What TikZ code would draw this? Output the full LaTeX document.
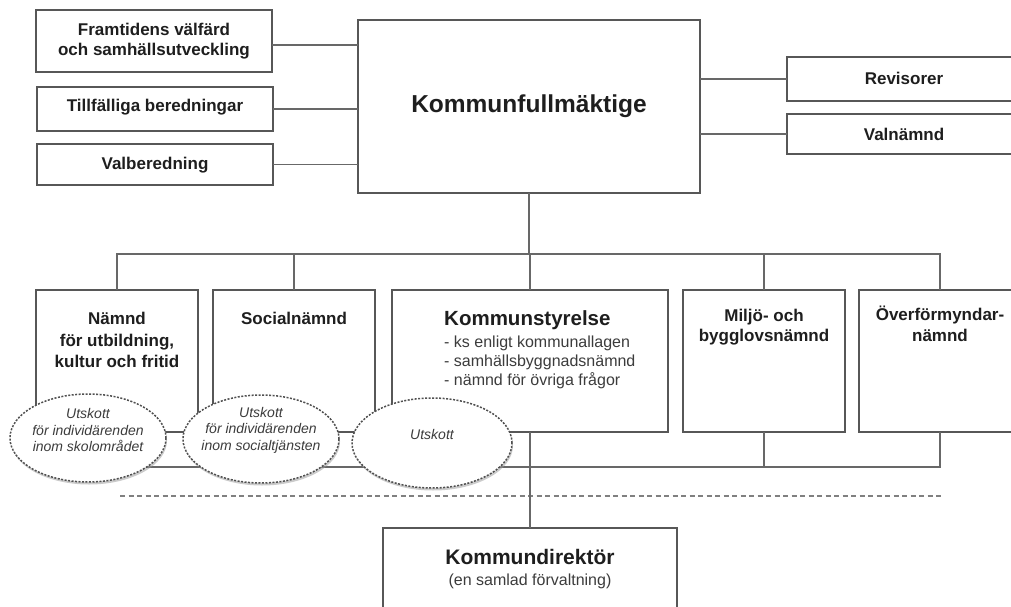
\documentclass[tikz,border=0pt]{standalone}
\usepackage{fontspec}
\setmainfont{Liberation Sans}
\usetikzlibrary{shapes.geometric,shadows}
\definecolor{linec}{HTML}{686868}
\definecolor{boxc}{HTML}{575757}
\definecolor{txtc}{HTML}{1E1E1E}
\definecolor{subc}{HTML}{3C3C3C}
\definecolor{ellc}{HTML}{505050}
\begin{document}
\begin{tikzpicture}[x=1pt,y=-1pt,
  box/.style={draw=boxc,line width=1.4pt,fill=white,inner sep=0pt,outer sep=0pt},
  conn/.style={draw=linec,line width=1.2pt},
  sepline/.style={draw=black!50,line width=1.1pt,dash pattern=on 5pt off 3.5pt},
  lbl/.style={text=txtc,font=\bfseries\fontsize{17}{20}\selectfont,align=center,inner sep=0pt},
  subtxt/.style={text=subc,font=\fontsize{16}{19}\selectfont,align=left,inner sep=0pt},
  ell/.style={ellipse,draw=ellc,line width=1.5pt,dash pattern=on 2pt off 1.5pt,fill=white,inner sep=0pt,
    drop shadow={shadow xshift=1pt,shadow yshift=-2.5pt,fill=black!40,opacity=0.5}},
  elltext/.style={text=subc,font=\itshape\fontsize{14}{16.5}\selectfont,align=center,inner sep=0pt}]
\path[use as bounding box] (0,0) rectangle (1011,607);
\clip (0,0) rectangle (1011,607);
\fill[white] (0,0) rectangle (1011,607);

% top level
\node[box,minimum width=342pt,minimum height=173pt] (kf) at (529,106.5) {};
\node[lbl,font=\bfseries\fontsize{24.5}{28}\selectfont,anchor=base] (kft) at (529,113) {Kommunfullmäktige};

\node[box,minimum width=236pt,minimum height=62pt] (fv) at (154,41) {};
\node[lbl,anchor=north] (fvt) at (154,23) {Framtidens välfärd\\och samhällsutveckling};
\node[box,minimum width=236pt,minimum height=44pt] (tb) at (155,109) {};
\node[lbl,anchor=base] (tbt) at (155,112) {Tillfälliga beredningar};
\node[box,minimum width=236pt,minimum height=41pt] (vb) at (155,164.5) {};
\node[lbl,anchor=base] (vbt) at (155,169) {Valberedning};

\node[box,minimum width=234pt,minimum height=44pt] (rev) at (904,79) {};
\node[lbl,anchor=base] (revt) at (904,85) {Revisorer};
\node[box,minimum width=234pt,minimum height=40pt] (val) at (904,134) {};
\node[lbl,anchor=base] (valt) at (904,140) {Valnämnd};

\coordinate (y45) at (0,45);
\draw[conn] (fv.east |- y45) -- (kf.west |- y45);
\draw[conn] (tb.east) -- (tb.east -| kf.west);
\draw[conn] (vb.east) -- (vb.east -| kf.west);
\draw[conn] (kf.east |- rev.west) -- (rev.west);
\draw[conn] (kf.east |- val.west) -- (val.west);

% middle row
\node[box,minimum width=162pt,minimum height=142pt] (n1) at (117,361) {};
\node[lbl,anchor=north,font=\bfseries\fontsize{17}{21.5}\selectfont] (n1t) at (117,312) {Nämnd\\för utbildning,\\kultur och fritid};
\node[box,minimum width=162pt,minimum height=142pt] (n2) at (294,361) {};
\node[lbl,anchor=base] (n2t) at (294,324) {Socialnämnd};
\node[box,minimum width=276pt,minimum height=142pt] (ks) at (530,361) {};
\node[lbl,anchor=base west,font=\bfseries\fontsize{20.5}{24}\selectfont] (kst) at (444,325) {Kommunstyrelse};
\node[subtxt,anchor=north west] (kss) at (444,336) {- ks enligt kommunallagen\\- samhällsbyggnadsnämnd\\- nämnd för övriga frågor};
\node[box,minimum width=162pt,minimum height=142pt] (mb) at (764,361) {};
\node[lbl,anchor=north] (mbt) at (764,309) {Miljö- och\\bygglovsnämnd};
\node[box,minimum width=162pt,minimum height=142pt] (of) at (940,361) {};
\node[lbl,anchor=north,font=\bfseries\fontsize{17}{21}\selectfont] (oft) at (940,306) {Överförmyndar-\\nämnd};

\coordinate (bt) at (0,254);
\coordinate (bb) at (0,467);
\draw[conn] (kf.south) -- (kf.south |- bt);
\draw[conn] (n1.north) -- (n1.north |- bt) -- (of.north |- bt) -- (of.north);
\draw[conn] (n2.north) -- (n2.north |- bt);
\draw[conn] (ks.north) -- (ks.north |- bt);
\draw[conn] (mb.north) -- (mb.north |- bt);
\draw[conn] (n1.south) -- (n1.south |- bb) -- (of.south |- bb) -- (of.south);
\draw[conn] (n2.south) -- (n2.south |- bb);
\draw[conn] (mb.south) -- (mb.south |- bb);

% separator
\coordinate (dl) at (120,496);
\coordinate (dr) at (942,496);
\draw[sepline] (dl) -- (dr);

% Kommundirektör
\node[box,minimum width=294pt,minimum height=112pt] (kd) at (530,584) {};
\node[lbl,anchor=base,font=\bfseries\fontsize{21}{24}\selectfont] (kdt) at (530,564) {Kommundirektör};
\node[subtxt,anchor=base,align=center] (kds) at (530,585) {(en samlad förvaltning)};
\draw[conn] (ks.south) -- (kd.north);

% ellipses
\node[ell,minimum width=156pt,minimum height=88pt] (e1) at (88,438) {};
\node[elltext] (e1t) at (88,430) {Utskott\\för individärenden\\inom skolområdet};
\node[ell,minimum width=156pt,minimum height=88pt] (e2) at (261,439) {};
\node[elltext] (e2t) at (261,430) {Utskott\\för individärenden\\inom socialtjänsten};
\node[ell,minimum width=160pt,minimum height=90pt] (e3) at (432,443) {};
\node[elltext] (e3t) at (432,434) {Utskott};
\end{tikzpicture}
\end{document}
